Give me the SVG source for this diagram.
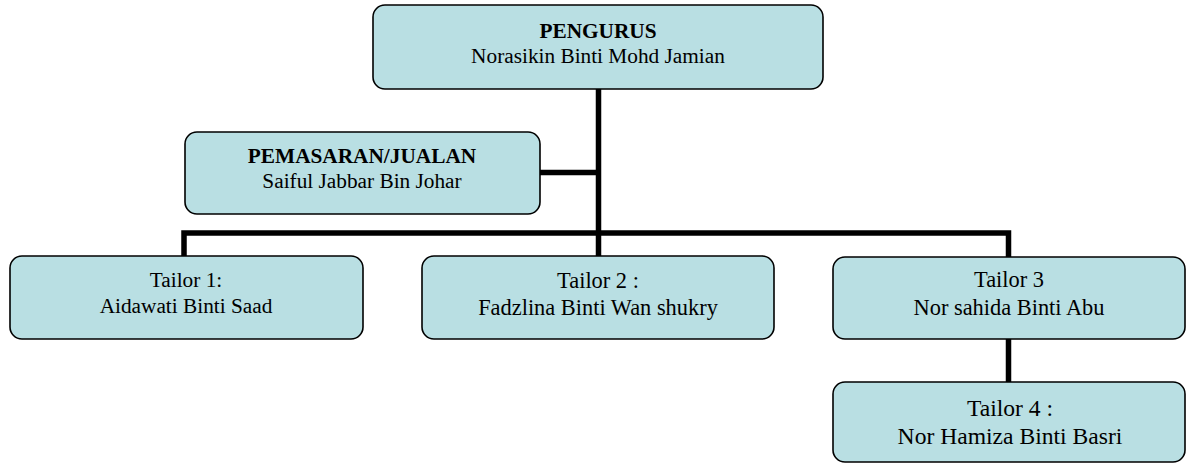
<svg xmlns="http://www.w3.org/2000/svg" width="1188" height="463" viewBox="0 0 1188 463">
<style>
.box{fill:#b9dfe3;stroke:#000;stroke-width:1.6}
.t{font-family:"Liberation Serif","Times New Roman",serif;font-size:21.3px;fill:#000;text-anchor:middle}
.b{font-weight:bold}
.m{font-size:22.4px}
.l{font-size:23.6px}
.c{stroke:#000;stroke-width:5.5;fill:none}
</style>
<rect width="1188" height="463" fill="#fff"/>
<g id="connectors">
<path class="c" d="M598.5 89V233M540 172.5H598.5M184 256V233H1008.5V257M598.5 233V256M1008.5 339V382"/>
</g>
<g id="pengurus">
<rect class="box" x="373" y="5" width="450" height="84" rx="12"/>
<text class="t b" x="598" y="38">PENGURUS</text>
<text class="t" x="598" y="63">Norasikin Binti Mohd Jamian</text>
</g>
<g id="pemasaran">
<rect class="box" x="185" y="132" width="355" height="82" rx="12"/>
<text class="t b" x="362" y="163">PEMASARAN/JUALAN</text>
<text class="t" x="362" y="188">Saiful Jabbar Bin Johar</text>
</g>
<g id="tailor1">
<rect class="box" x="10" y="256" width="353" height="83" rx="12"/>
<text class="t" x="186" y="287">Tailor 1:</text>
<text class="t" x="186" y="313">Aidawati Binti Saad</text>
</g>
<g id="tailor2">
<rect class="box" x="422" y="256" width="352" height="83" rx="12"/>
<text class="t m" x="598" y="288">Tailor 2 :</text>
<text class="t m" x="598" y="315">Fadzlina Binti Wan shukry</text>
</g>
<g id="tailor3">
<rect class="box" x="833" y="257" width="352" height="82" rx="12"/>
<text class="t m" x="1009" y="287">Tailor 3</text>
<text class="t m" x="1009" y="315">Nor sahida Binti Abu</text>
</g>
<g id="tailor4">
<rect class="box" x="833" y="382" width="352" height="80" rx="12"/>
<text class="t l" x="1010" y="416">Tailor 4 :</text>
<text class="t l" x="1010" y="444">Nor Hamiza Binti Basri</text>
</g>
</svg>
